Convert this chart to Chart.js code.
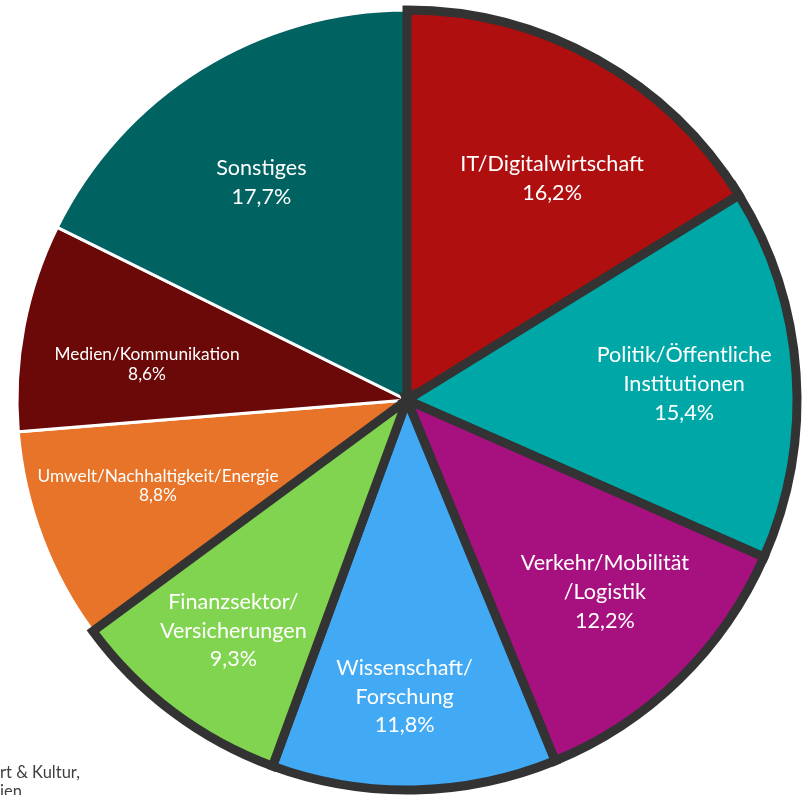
<!DOCTYPE html>
<html>
<head>
<meta charset="utf-8">
<script src="https://cdn.jsdelivr.net/npm/chart.js@4"></script>
<style>
  html, body { margin: 0; padding: 0; background: #fff; overflow: hidden; }
  #wrap { position: absolute; left: 0; top: 0; width: 814px; height: 800px; }
  .cut { position: absolute; left: 0; font-family: Lato, "Open Sans", sans-serif; font-size: 16.5px; color: #404040; white-space: nowrap; }
</style>
</head>
<body>
<div id="wrap"><canvas id="pie" width="814" height="800"></canvas></div>
<div class="cut" style="top:762px">rt &amp; Kultur,</div>
<div class="cut" style="top:781px">ien</div>
<script>
// Reihenfolge im Datensatz: die Segmente mit dunklem Rand kommen zuletzt,
// damit ihr Rand oben liegt. Die Drehung sorgt dafür, dass IT oben beginnt.
const categories = [
  ['Umwelt/Nachhaltigkeit/Energie'],
  ['Medien/Kommunikation'],
  ['Sonstiges'],
  ['IT/Digitalwirtschaft'],
  ['Politik/Öffentliche', 'Institutionen'],
  ['Verkehr/Mobilität', '/Logistik'],
  ['Wissenschaft/', 'Forschung'],
  ['Finanzsektor/', 'Versicherungen']
];
const shares = [8.8, 8.6, 17.7, 16.2, 15.4, 12.2, 11.8, 9.3];
const shareLabels = ['8,8%', '8,6%', '17,7%', '16,2%', '15,4%', '12,2%', '11,8%', '9,3%'];

const colors = ['#E77428', '#6B0909', '#016262', '#B00F0F', '#00A7A7', '#A7117F', '#42A9F4', '#80D44F'];
const borders = ['#ffffff', '#ffffff', '#ffffff', '#333333', '#333333', '#333333', '#333333', '#333333'];
const borderWidths = [3, 3, 3, 9, 9, 9, 9, 9];
// Schrift, Abstand vom Mittelpunkt und kleine Drehung je Beschriftung
const labelSize = [17.3, 17.3, 21.6, 21.6, 21.6, 21.6, 21.6, 21.6];
const labelLine = [19.7, 19.7, 29, 29, 29, 29, 28.6, 28.6];
const labelDist = [0.675, 0.673, 0.672, 0.680, 0.712, 0.705, 0.759, 0.739];
const labelTurn = [1.6, -2.9, -1.9, 4.0, 0.55, -1.75, 1.55, 0.15];

const before = shares[0] + shares[1] + shares[2];

const sliceLabels = {
  id: 'sliceLabels',
  afterDatasetsDraw(chart) {
    const ctx = chart.ctx;
    const meta = chart.getDatasetMeta(0);
    meta.data.forEach(function (arc, i) {
      const mid = (arc.startAngle + arc.endAngle) / 2 + labelTurn[i] * Math.PI / 180;
      const r = arc.outerRadius * labelDist[i];
      const x = arc.x + Math.cos(mid) * r;
      const y = arc.y + Math.sin(mid) * r;
      const lines = categories[i].concat([shareLabels[i]]);
      const size = labelSize[i];
      const lh = labelLine[i];
      const cap = size * 0.717;
      ctx.save();
      ctx.fillStyle = '#ffffff';
      ctx.font = size + 'px Lato, "Open Sans", sans-serif';
      ctx.textAlign = 'center';
      ctx.textBaseline = 'alphabetic';
      const top = y - (lines.length - 1) * lh / 2;
      lines.forEach(function (t, k) {
        ctx.fillText(t, x, top + k * lh + cap / 2);
      });
      ctx.restore();
    });
  }
};

new Chart(document.getElementById('pie'), {
  type: 'pie',
  data: {
    labels: categories.map(function (c) { return c.join(' '); }),
    datasets: [{
      data: shares,
      backgroundColor: colors,
      borderColor: borders,
      borderWidth: borderWidths,
      borderJoinStyle: 'miter',
      hoverOffset: 0
    }]
  },
  options: {
    responsive: false,
    animation: false,
    radius: 390,
    rotation: -before / 100 * 360,
    layout: { padding: 0 },
    plugins: {
      legend: { display: false },
      tooltip: { enabled: false }
    }
  },
  plugins: [sliceLabels]
});
</script>
</body>
</html>
